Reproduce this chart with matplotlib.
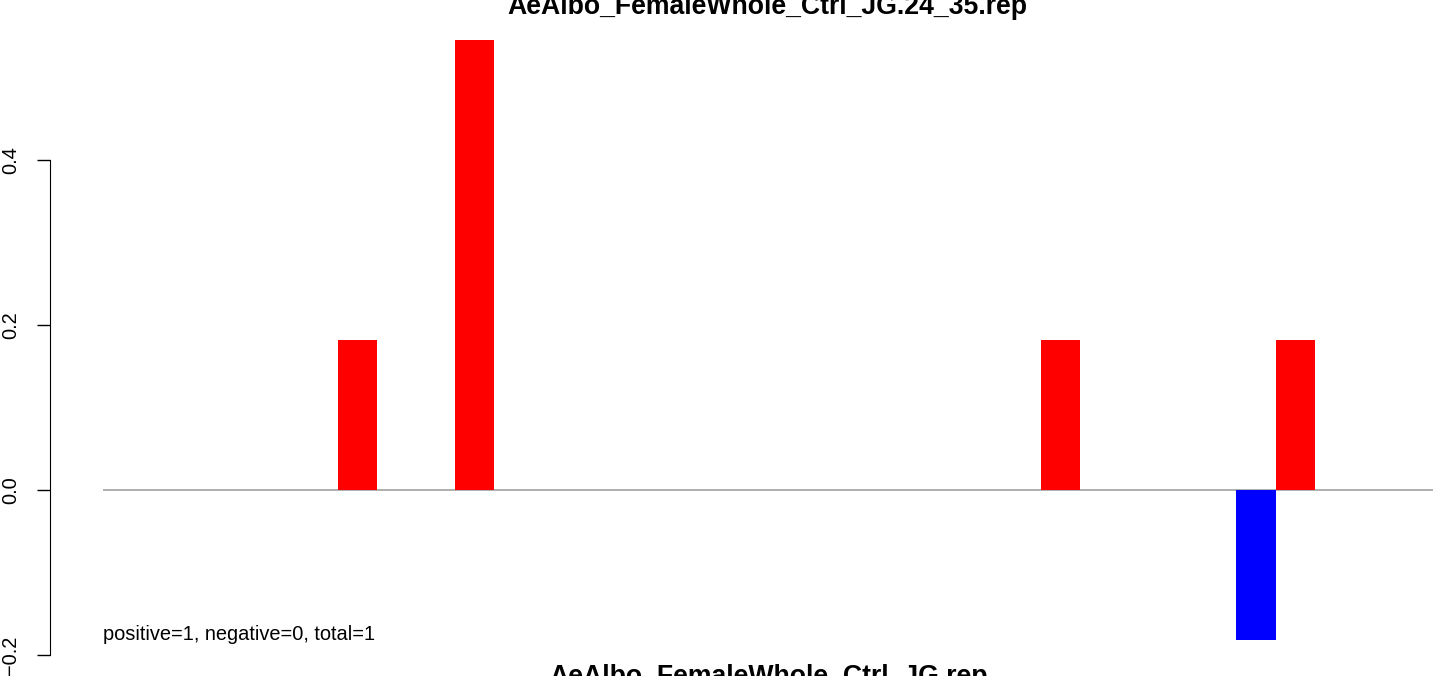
import numpy as np
import matplotlib
matplotlib.use("Agg")
import matplotlib.pyplot as plt

plt.rcParams['font.family'] = ['Liberation Sans', 'DejaVu Sans']

# one group per position, two bars per group (negative / positive)
groups = np.arange(11)
neg_vals = [0, 0, 0, 0, 0, 0, 0, 0, 0, -0.1818, 0]
pos_vals = [0, 0.1818, 0.5454, 0, 0, 0, 0, 0.1818, 0, 0.1818, 0]
yticks = [-0.2, 0.0, 0.2, 0.4]
title = "AeAlbo_FemaleWhole_Ctrl_JG.24_35.rep"
xlab = "AeAlbo_FemaleWhole_Ctrl_JG.rep"
note = "positive=1, negative=0, total=1"

W, H = 1433, 676
fig = plt.figure(figsize=(W/100, H/100), dpi=100)
ax = fig.add_axes([50/W, 0, 1 - 50/W, 1])

# R barplot layout: bar width 1, one bar of space between groups
neg_x = 3*groups + 1
pos_x = 3*groups + 2
ax.bar(neg_x, neg_vals, width=1, align='edge', color='blue', linewidth=0)
ax.bar(pos_x, pos_vals, width=1, align='edge', color='red', linewidth=0)
ax.hlines(0, -1.02, 40, color='#a8a8a8', lw=1.3, zorder=0)

ax.set_xlim(-2.37, 33.03)
ax.set_ylim(-0.2255, 0.594)
ax.set_xticks([])
ax.set_yticks(yticks)
ax.set_yticklabels(["\u22120.2", "0.0", "0.2", "0.4"], rotation=90, va='center', fontsize=14.4)
ax.tick_params(axis='y', length=9.5, width=1, pad=12)
for s in ['top', 'right', 'bottom']:
    ax.spines[s].set_visible(False)
ax.spines['left'].set_bounds(-0.2, 0.4)
ax.patch.set_visible(False)

fig.text(767/W, 1 - 14/H, title, ha='center', va='baseline', fontsize=19.2, fontweight='bold')
fig.text(769/W, 1 - 684/H, xlab, ha='center', va='baseline', fontsize=19.2, fontweight='bold')
ax.text(-1.02, -0.1818, note, ha='left', va='baseline', fontsize=14.4)

fig.savefig("out.png", dpi=100)
